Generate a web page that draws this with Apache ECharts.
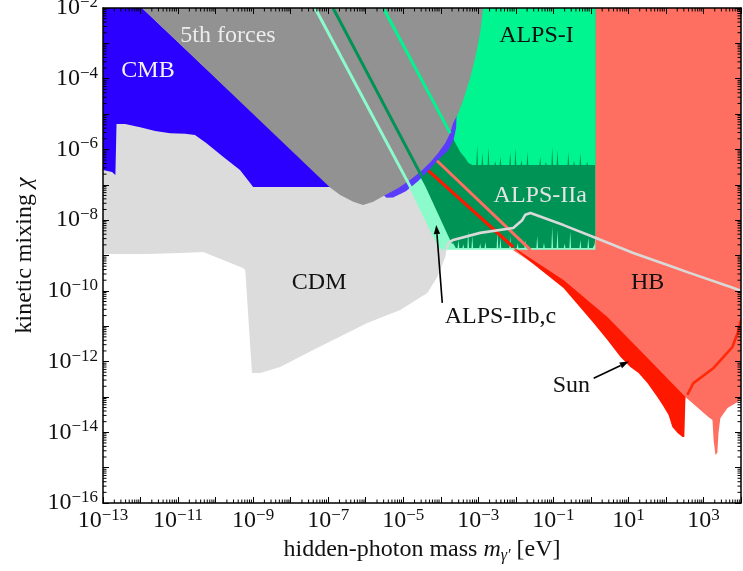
<!DOCTYPE html>
<html>
<head>
<meta charset="utf-8">
<script src="https://cdn.jsdelivr.net/npm/echarts@6/dist/echarts.min.js"></script>
<style>
  html, body { margin: 0; padding: 0; background: #ffffff; }
  #chart { width: 743px; height: 571px; }
</style>
</head>
<body>
<div id="chart"></div>
<script>
// Every point is [log10(m / eV), log10(chi)].

const massRange = [-13, 4];
const mixingRange = [-16, -2];
const massTickLabels = [-13, -11, -9, -7, -5, -3, -1, 1, 3];
const mixingTickLabels = [-16, -14, -12, -10, -8, -6, -4, -2];

// Cosmic microwave background distortions
const cmbRegion = [[-13, -2], [-11.96, -2], [-6.9, -7.08], [-6.9, -7.25], [-13, -7.25]];

// Hidden-photon cold dark matter window
const cdmRegion = [
  [-13, -6.58], [-12.76, -6.64], [-12.67, -6.72], [-12.64, -5.28], [-12.41, -5.28],
  [-12.01, -5.37], [-11.61, -5.48], [-11.21, -5.54], [-10.81, -5.56], [-10.55, -5.59],
  [-10.25, -5.82], [-9.80, -6.21], [-9.35, -6.58], [-9.08, -6.95], [-9.00, -7.06],
  [-6.95, -7.06], [-5.08, -7.06], [-4.68, -7.15], [-3.83, -8.76], [-3.88, -9.04],
  [-4.09, -9.60], [-4.36, -10.06], [-5.08, -10.54], [-5.96, -10.91], [-7.40, -11.67],
  [-8.28, -12.15], [-8.81, -12.32], [-9.03, -12.32], [-9.21, -9.41], [-9.27, -9.35],
  [-10.33, -8.90], [-10.95, -8.93], [-11.83, -8.96], [-13, -8.96]
];

// Tests of Coulomb's law / fifth forces
const fifthForceRegion = [
  [-11.96, -2], [-2.87, -2], [-2.95, -2.71], [-3.08, -3.39], [-3.21, -3.95],
  [-3.40, -4.60], [-3.53, -4.97], [-3.67, -5.25], [-3.75, -5.54], [-3.88, -5.82],
  [-4.07, -6.10], [-4.28, -6.36], [-4.52, -6.61], [-4.81, -6.86], [-5.13, -7.09],
  [-5.48, -7.29], [-5.80, -7.48], [-6.07, -7.57], [-6.33, -7.48], [-6.68, -7.29],
  [-6.95, -7.08]
];

// Resonant CMB conversion band along the fifth-force edge
const cmbResonantRegion = [
  [-3.58, -5.03], [-3.59, -5.39], [-3.66, -5.73], [-3.80, -6.02], [-4.10, -6.32],
  [-4.33, -6.60], [-4.60, -6.89], [-4.93, -7.18], [-5.27, -7.36], [-5.45, -7.37],
  [-5.61, -7.20], [-4.55, -6.44], [-3.88, -5.45], [-3.69, -4.94]
];

// ALPS sensitivity curves (excluded region lies above each curve)
const alpsIIbcCurve = [[-7.35, -2], [-4.81, -7.06], [-4.01, -8.79], [-3.95, -8.84], [0.12, -8.84]];
const alpsIIaCurve = [[-6.87, -2], [-4.36, -7.06], [-3.67, -8.65], [-3.60, -8.79], [0.05, -8.79], [0.10, -8.68], [0.12, -8.45]];
const alpsIIaBase = -8.79;
const alpsIIaDips = [
  [-3.53, -8.56], [-3.40, -8.68], [-3.27, -8.30], [-3.16, -8.45], [-2.95, -8.66],
  [-2.81, -8.62], [-2.49, -8.33], [-2.41, -8.50], [-2.15, -8.45], [-1.95, -8.65],
  [-1.75, -8.56], [-1.43, -8.45], [-1.25, -8.64], [-1.03, -8.19], [-0.89, -8.28],
  [-0.70, -8.66], [-0.55, -8.33], [-0.28, -8.56], [-0.07, -8.50]
];
const alpsICurve = [[-5.53, -2], [-3.75, -5.54], [-3.61, -5.82], [-3.48, -6.07], [-3.35, -6.24], [-3.27, -6.38], [-3.16, -6.44], [0.12, -6.44]];
const alpsIBase = -6.44;
const alpsIDips = [
  [-3.03, -5.87], [-2.89, -6.10], [-2.73, -5.93], [-2.55, -6.33], [-2.41, -6.21],
  [-2.15, -6.07], [-2.01, -5.96], [-1.85, -6.30], [-1.69, -6.07], [-1.35, -6.21],
  [-1.20, -6.35], [-1.03, -5.93], [-0.89, -6.02], [-0.60, -6.07], [-0.45, -6.32],
  [-0.28, -6.10], [-0.10, -6.34]
];

// Horizontal-branch stars
const hbRegion = [
  [0.05, -2], [4, -2], [4, -13.03], [3.91, -13.14], [3.64, -13.31], [3.45, -13.60],
  [3.40, -14.02], [3.37, -14.58], [3.32, -14.64], [3.27, -14.22], [3.24, -13.65],
  [3.13, -13.57], [2.52, -13.00], [2.50, -13.15], [1.51, -12.00], [0.44, -10.85],
  [-0.73, -9.80], [-2.07, -8.85], [-2.07, -8.60], [0.05, -8.60]
];

// Solar lifetime
const sunRegion = [
  [-2.07, -8.76], [-0.73, -9.69], [0.44, -10.74], [1.51, -11.90], [2.52, -13.00],
  [2.49, -14.13], [2.44, -14.13], [2.31, -14.02], [2.17, -13.85], [2.07, -13.51],
  [1.91, -13.23], [1.77, -13.00], [1.51, -12.61], [1.27, -12.32], [1.05, -12.15],
  [0.79, -11.87], [0.44, -11.39], [0.07, -10.91], [-0.73, -9.92], [-2.01, -8.84]
];

// Boundary lines continued across other limits
const alpsIIbcLine = [[-7.35, -2], [-4.81, -7.06], [-4.01, -8.79]];
const alpsIIaLine = [[-6.87, -2], [-4.36, -7.06], [-3.67, -8.65]];
const alpsILine = [[-5.53, -2], [-3.75, -5.54]];
const hbLine = [[-4.10, -6.32], [-1.61, -8.84]];
const sunLine = [[-4.33, -6.60], [-2.07, -8.76]];
const dmLine = [
  [-3.85, -8.82], [-3.80, -8.65], [-3.67, -8.56], [-2.95, -8.36], [-2.07, -8.22],
  [-1.83, -8.00], [-1.75, -7.85], [-1.61, -7.80], [-1.48, -7.85], [-0.73, -8.14],
  [0.12, -8.50], [1.13, -8.93], [2.04, -9.27], [2.57, -9.47], [3.80, -9.92], [4.0, -10.0]
];
const xrayLine = [[2.57, -12.94], [2.73, -12.61], [3.27, -12.18], [3.77, -11.59], [3.91, -11.19], [4.0, -10.82]];

// Region names and arrow pointers
const regionLabels = [
  { text: '5th forces', at: [-9.67, -2.77], color: '#ececec' },
  { text: 'CMB', at: [-11.80, -3.76], color: '#f4f4f4' },
  { text: 'ALPS-I', at: [-1.45, -2.77], color: '#111111' },
  { text: 'ALPS-IIa', at: [-1.35, -7.30], color: '#e4e4e4' },
  { text: 'CDM', at: [-7.24, -9.78], color: '#111111' },
  { text: 'HB', at: [1.51, -9.78], color: '#111111' },
  { text: 'ALPS-IIb,c', at: [-2.41, -10.72], color: '#111111' },
  { text: 'Sun', at: [-0.52, -12.67], color: '#111111' }
];
const arrows = [
  { from: [-3.96, -10.34], to: [-4.12, -8.14] },
  { from: [0.075, -12.47], to: [1.01, -12.0] }
];

const FONT = '"Liberation Serif", "DejaVu Serif", serif';
const MINUS = '\u2212';
const DIP_HALF_WIDTH = 0.022;

function withDips(curve, dips, base) {
  const pts = curve.slice();
  dips.forEach(([m, c]) => {
    pts.push([m - DIP_HALF_WIDTH, base], [m, c], [m + DIP_HALF_WIDTH, base]);
  });
  pts.sort((a, b) => a[0] - b[0]);
  return pts;
}
function regionAbove(curve) {
  const last = curve[curve.length - 1];
  return curve.concat([[last[0], mixingRange[1]]]);
}

let zCounter = 2;
function fillSeries(name, points, color) {
  return {
    name, type: 'custom', coordinateSystem: 'cartesian2d', clip: true, silent: true,
    z: zCounter++,
    data: [points[0]],
    renderItem: (params, api) => ({
      type: 'polygon',
      shape: { points: points.map(p => api.coord(p)) },
      style: { fill: color }
    })
  };
}
function strokeSeries(name, points, color, width) {
  return {
    name, type: 'custom', coordinateSystem: 'cartesian2d', clip: true, silent: true,
    z: zCounter++,
    data: [points[0]],
    renderItem: (params, api) => ({
      type: 'polyline',
      shape: { points: points.map(p => api.coord(p)) },
      style: { stroke: color, lineWidth: width, fill: null, lineJoin: 'round' }
    })
  };
}

// Logarithmic minor ticks on all four sides of the frame
const minorTickSeries = {
  name: 'minor ticks', type: 'custom', coordinateSystem: 'cartesian2d', silent: true, clip: false,
  z: 60,
  data: [[massRange[0], mixingRange[0]]],
  renderItem: (params, api) => {
    const L = 3.5;
    const children = [];
    const seg = (x1, y1, x2, y2) => children.push({
      type: 'line', shape: { x1, y1, x2, y2 }, style: { stroke: '#000', lineWidth: 1 }
    });
    for (let d = massRange[0]; d < massRange[1]; d++) {
      for (let k = 2; k <= 9; k++) {
        const v = d + Math.log10(k);
        const b = api.coord([v, mixingRange[0]]);
        const t = api.coord([v, mixingRange[1]]);
        seg(b[0], b[1], b[0], b[1] - L);
        seg(t[0], t[1], t[0], t[1] + L);
      }
    }
    for (let d = mixingRange[0]; d < mixingRange[1]; d++) {
      for (let k = 2; k <= 9; k++) {
        const v = d + Math.log10(k);
        const l = api.coord([massRange[0], v]);
        const r = api.coord([massRange[1], v]);
        seg(l[0], l[1], l[0] + L, l[1]);
        seg(r[0], r[1], r[0] - L, r[1]);
      }
    }
    return { type: 'group', children };
  }
};

const labelSeries = {
  name: 'labels', type: 'custom', coordinateSystem: 'cartesian2d', silent: true, clip: false,
  z: 61,
  data: [regionLabels[0].at],
  renderItem: (params, api) => {
    const children = regionLabels.map(l => {
      const p = api.coord(l.at);
      return {
        type: 'text', x: p[0], y: p[1],
        style: { text: l.text, fill: l.color, fontSize: 24, fontFamily: FONT, align: 'center', verticalAlign: 'middle' }
      };
    });
    arrows.forEach(a => {
      const s = api.coord(a.from), e = api.coord(a.to);
      const dx = e[0] - s[0], dy = e[1] - s[1];
      const len = Math.hypot(dx, dy), ux = dx / len, uy = dy / len;
      const head = 9, half = 3.2;
      const bx = e[0] - ux * head, by = e[1] - uy * head;
      children.push({ type: 'line', shape: { x1: s[0], y1: s[1], x2: bx, y2: by }, style: { stroke: '#000', lineWidth: 1.6 } });
      children.push({
        type: 'polygon',
        shape: { points: [[e[0], e[1]], [bx - uy * half, by + ux * half], [bx + uy * half, by - ux * half]] },
        style: { fill: '#000' }
      });
    });
    return { type: 'group', children };
  }
};

function powerLabel(e) {
  return '{b|10}{s|' + (e < 0 ? MINUS + (-e) : String(e)) + '}';
}
const tickRich = {
  b: { fontSize: 24, fontFamily: FONT, color: '#111', lineHeight: 28, verticalAlign: 'middle' },
  s: { fontSize: 17, fontFamily: FONT, color: '#111', verticalAlign: 'top' }
};
const frameLine = { show: true, onZero: false, lineStyle: { color: '#000', width: 1.5 } };
const majorTick = { show: true, inside: true, length: 6, lineStyle: { color: '#000', width: 1 } };

const series = [
  fillSeries('CMB', cmbRegion, '#2b00ff'),
  fillSeries('CDM', cdmRegion, '#dcdcdc'),
  fillSeries('HB', hbRegion, '#ff6f61'),
  fillSeries('ALPS-IIb,c', regionAbove(alpsIIbcCurve), '#8cfbcc'),
  fillSeries('ALPS-IIa', regionAbove(withDips(alpsIIaCurve, alpsIIaDips, alpsIIaBase)), '#009356'),
  fillSeries('ALPS-I', regionAbove(withDips(alpsICurve, alpsIDips, alpsIBase)), '#00f590'),
  fillSeries('Sun', sunRegion, '#ff1800'),
  fillSeries('CMB resonant', cmbResonantRegion, '#5a3cff'),
  fillSeries('5th forces', fifthForceRegion, '#929292'),
  strokeSeries('ALPS-IIb,c edge', alpsIIbcLine, '#8cfbcc', 3),
  strokeSeries('ALPS-IIa edge', alpsIIaLine, '#009356', 3),
  strokeSeries('ALPS-I edge', alpsILine, '#00f590', 3),
  strokeSeries('HB edge', hbLine, '#ff6f61', 3),
  strokeSeries('Sun edge', sunLine, '#ff1800', 3.2),
  strokeSeries('DM line', dmLine, '#d9d9d9', 2.6),
  strokeSeries('X-ray line', xrayLine, '#ff2a0a', 2.6),
  minorTickSeries,
  labelSeries
];

const chart = echarts.init(document.getElementById('chart'), null, { renderer: 'canvas' });
chart.setOption({
  animation: false,
  backgroundColor: '#ffffff',
  grid: { left: 103, top: 8, width: 638, height: 495, containLabel: false, outerBoundsMode: 'none' },
  xAxis: [
    {
      type: 'value', min: massRange[0], max: massRange[1], interval: 1, position: 'bottom', z: 50,
      axisLine: frameLine, axisTick: majorTick, splitLine: { show: false },
      axisLabel: {
        margin: 4, showMinLabel: true, showMaxLabel: true,
        formatter: v => massTickLabels.includes(v) ? powerLabel(v) : '',
        rich: tickRich
      },
      name: '{r|hidden-photon mass }{i|m}{g|\u03b3\u2032}{r| [eV]}',
      nameLocation: 'middle', nameGap: 32,
      nameTextStyle: {
        rich: {
          r: { fontSize: 24, fontFamily: FONT, color: '#111', lineHeight: 28 },
          i: { fontSize: 24, fontFamily: FONT, fontStyle: 'italic', color: '#111', lineHeight: 28 },
          g: { fontSize: 16, fontFamily: FONT, fontStyle: 'italic', color: '#111', verticalAlign: 'bottom', padding: [10, 0, 0, 0] }
        }
      }
    },
    {
      type: 'value', min: massRange[0], max: massRange[1], interval: 1, position: 'top', z: 50,
      axisLine: frameLine, axisTick: majorTick, axisLabel: { show: false }, splitLine: { show: false }
    }
  ],
  yAxis: [
    {
      type: 'value', min: mixingRange[0], max: mixingRange[1], interval: 1, position: 'left', z: 50,
      axisLine: frameLine, axisTick: majorTick, splitLine: { show: false },
      axisLabel: {
        margin: 5, showMinLabel: true, showMaxLabel: true,
        formatter: v => mixingTickLabels.includes(v) ? powerLabel(v) : '',
        rich: tickRich
      },
      name: '{r|kinetic mixing }{i|\u03c7}',
      nameLocation: 'middle', nameGap: 64,
      nameTextStyle: {
        rich: {
          r: { fontSize: 24, fontFamily: FONT, color: '#111', lineHeight: 28 },
          i: { fontSize: 24, fontFamily: FONT, fontStyle: 'italic', color: '#111', lineHeight: 28 }
        }
      }
    },
    {
      type: 'value', min: mixingRange[0], max: mixingRange[1], interval: 1, position: 'right', z: 50,
      axisLine: frameLine, axisTick: majorTick, axisLabel: { show: false }, splitLine: { show: false }
    }
  ],
  series
});
</script>
</body>
</html>
